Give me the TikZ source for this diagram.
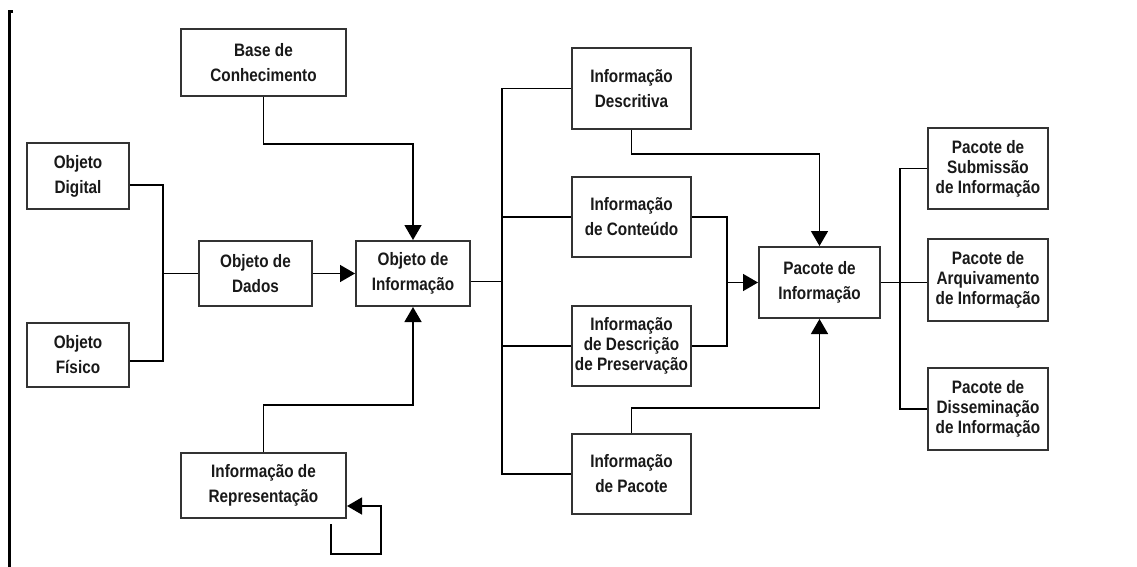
\documentclass[tikz,border=0pt]{standalone}
\usepackage{fontspec}
\setmainfont[FakeStretch=0.85]{Liberation Sans}
\usetikzlibrary{arrows.meta,calc}

\begin{document}
\begin{tikzpicture}[x=1pt,y=-1pt,line join=miter,line width=1.5pt,>={Triangle[length=15pt,width=17pt]},
	caixa/.style={draw=black!80,line width=2pt,fill=white,align=center,inner sep=0pt,text=black!90,font=\bfseries\fontsize{18}{25}\selectfont},
	tres/.style={font=\bfseries\fontsize{18}{20}\selectfont}]
	\fill[white] (0,0) rectangle (1137,567);
	\useasboundingbox (0,0) rectangle (1137,567);
	\draw[line width=3pt] (13,12)--(9,12)--(9,567);
	% caixas
	\node[caixa,minimum width=165pt,minimum height=67pt] (base) at (263.5,62.5) {Base de\\Conhecimento};
	\node[caixa,minimum width=102pt,minimum height=66pt] (digital) at (78,176) {Objeto\\Digital};
	\node[caixa,minimum width=102pt,minimum height=64pt] (fisico) at (78,355) {Objeto\\Físico};
	\node[caixa,minimum width=113pt,minimum height=65pt] (dados) at (255.5,273.5) {Objeto de\\Dados};
	\node[caixa,minimum width=114pt,minimum height=65pt] (objinfo) at (413,273.5) {Objeto de\\Informação};
	\node[caixa,minimum width=165pt,minimum height=65pt] (repres) at (263.5,485.5) {Informação de\\Representação};
	\node[caixa,minimum width=119pt,minimum height=81pt] (descr) at (631.5,88.5) {Informação\\Descritiva};
	\node[caixa,minimum width=119pt,minimum height=80pt] (conteudo) at (631.5,217) {Informação\\de Conteúdo};
	\node[caixa,tres,minimum width=119pt,minimum height=80pt] (preserv) at (631.5,346) {Informação\\de Descrição\\de Preservação};
	\node[caixa,minimum width=119pt,minimum height=80pt] (infpac) at (631.5,474) {Informação\\de Pacote};
	\node[caixa,minimum width=121pt,minimum height=71pt] (pacinfo) at (819.5,282.5) {Pacote de\\Informação};
	\node[caixa,tres,minimum width=120pt,minimum height=81pt] (subm) at (988,168.5) {Pacote de\\Submissão\\de Informação};
	\node[caixa,tres,minimum width=120pt,minimum height=82pt] (arq) at (988,280) {Pacote de\\Arquivamento\\de Informação};
	\node[caixa,tres,minimum width=120pt,minimum height=82pt] (dissem) at (988,409) {Pacote de\\Disseminação\\de Informação};
	% ligacoes
	\coordinate (jd) at (163,273.5);
	\coordinate (bus) at (502,281.5);
	\coordinate (jc) at (727,282.5);
	\coordinate (jp) at (900,282.5);
	\draw ([yshift=-9pt]digital.east) -| (jd) |- ([yshift=-6pt]fisico.east);
	\draw (jd) -- (dados.west);
	\draw[->] (dados) -- (objinfo);
	\draw[->] (base.south) -- ++(0,47) -| (objinfo.north);
	\draw[->] (repres.north) -- ++(0,-47) -| (objinfo.south);
	\draw[->] ([xshift=-16pt,yshift=-5pt]repres.south east) -- ++(0,30) -| ([xshift=34pt,yshift=-20.5pt]repres.east) -- ([yshift=-20.5pt]repres.east);
	\draw ([yshift=-8pt]objinfo.east) -- (bus);
	\draw (descr.west) -| (bus |- infpac.west) -- (infpac.west);
	\draw (conteudo.west) -- (bus |- conteudo.west);
	\draw (preserv.west) -- (bus |- preserv.west);
	\draw (conteudo.east) -| (jc |- preserv.east) -- (preserv.east);
	\draw[->] (jc) -- (pacinfo.west);
	\draw[->] (descr.south) -- ++(0,24) -| (pacinfo.north);
	\draw[->] (infpac.north) -- ++(0,-25) -| (pacinfo.south);
	\draw (pacinfo.east) -- (pacinfo.east -| arq.west);
	\draw (subm.west) -| (jp |- dissem.west) -- (dissem.west);
\end{tikzpicture}
\end{document}
